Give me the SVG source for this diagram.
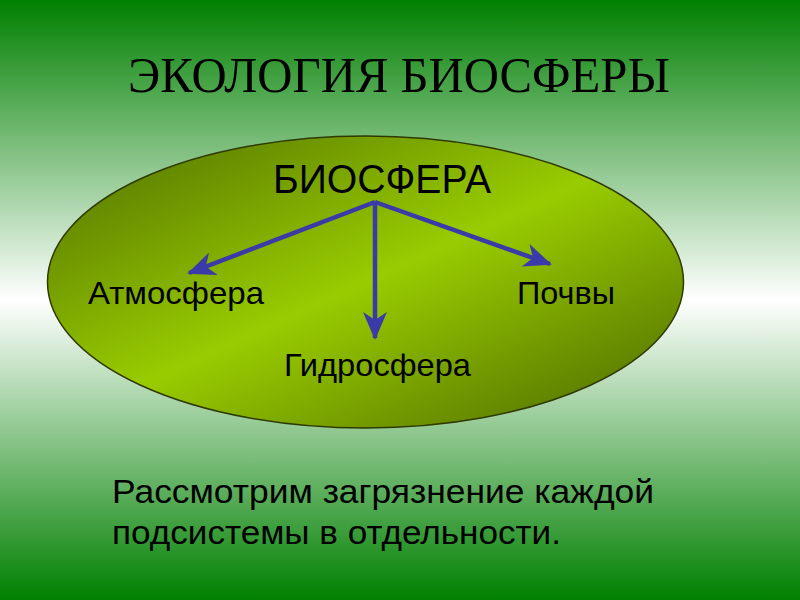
<svg xmlns="http://www.w3.org/2000/svg" width="800" height="600" viewBox="0 0 800 600">
<defs>
<linearGradient id="bg" x1="0" y1="0" x2="0" y2="1">
<stop offset="0" stop-color="#008000"/>
<stop offset="0.5" stop-color="#ffffff"/>
<stop offset="1" stop-color="#008000"/>
</linearGradient>
<linearGradient id="ell" x1="0" y1="0" x2="1" y2="1">
<stop offset="0" stop-color="#4f6e00"/>
<stop offset="0.5" stop-color="#99cc00"/>
<stop offset="1" stop-color="#4a6600"/>
</linearGradient>
<marker id="arr" viewBox="0 0 28 24" refX="26" refY="12" markerWidth="28" markerHeight="24" markerUnits="userSpaceOnUse" orient="auto">
<path d="M0,0 L28,12 L0,24 L8,12 Z" fill="#3a3aa8"/>
</marker>
<style>
.t{font-family:"Liberation Sans",Arial,sans-serif;fill:#000}
.c{stroke:#3a3aa8;stroke-width:4.5;fill:none;marker-end:url(#arr)}
</style>
</defs>
<rect width="800" height="600" fill="url(#bg)"/>
<text x="128" y="92" font-family="'Liberation Serif','Times New Roman',serif" font-size="50" textLength="542" lengthAdjust="spacingAndGlyphs">ЭКОЛОГИЯ БИОСФЕРЫ</text>
<g id="biosphere">
<ellipse cx="365.5" cy="282" rx="318" ry="146" fill="url(#ell)" stroke="#2e3a00" stroke-width="1.5"/>
<text class="t" x="273" y="193" font-size="40" textLength="218" lengthAdjust="spacingAndGlyphs">БИОСФЕРА</text>
</g>
<g id="atmosphere"><text class="t" x="88" y="304" font-size="32" textLength="176" lengthAdjust="spacingAndGlyphs">Атмосфера</text></g>
<g id="soils"><text class="t" x="517" y="304" font-size="32" textLength="98" lengthAdjust="spacingAndGlyphs">Почвы</text></g>
<g id="hydrosphere"><text class="t" x="284" y="376" font-size="32" textLength="187" lengthAdjust="spacingAndGlyphs">Гидросфера</text></g>
<g id="connectors">
<line class="c" x1="375" y1="202" x2="189" y2="273"/>
<line class="c" x1="375" y1="202" x2="375" y2="338"/>
<line class="c" x1="375" y1="202" x2="550" y2="264"/>
</g>
<text class="t" font-size="33"><tspan x="112" y="503" textLength="542" lengthAdjust="spacingAndGlyphs">Рассмотрим загрязнение каждой</tspan><tspan x="112" y="544" textLength="449" lengthAdjust="spacingAndGlyphs">подсистемы в отдельности.</tspan></text>
</svg>
